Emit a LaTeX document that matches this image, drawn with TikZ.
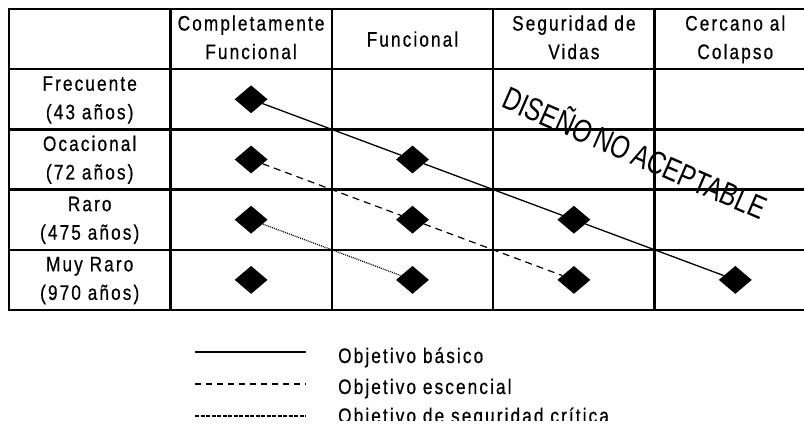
\documentclass[tikz,border=0pt]{standalone}
\usepackage{fontspec}
\setmainfont{Liberation Sans}[FakeStretch=0.82,LetterSpace=10,FakeBold=0.6]
\newfontfamily\plana{Liberation Sans}
\usepackage{tikz}
\usetikzlibrary{matrix,shapes.geometric}

\newcommand{\dos}[2]{\raisebox{-7.5pt}{\begin{tabular}{@{}c@{}}#1\\#2\end{tabular}}}

\tikzset{
	celda/.style={rectangle,draw,line width=2.5pt,minimum width=161.4pt,minimum height=60.2pt,
		inner sep=0pt,outer sep=0pt,anchor=center,font=\fontsize{21pt}{28.5pt}\selectfont},
	rombo/.style={diamond,fill=black,minimum width=33pt,minimum height=28pt,inner sep=0pt},
	basico/.style={line width=1.3pt},
	escencial/.style={line width=1.2pt,dash pattern=on 7pt off 5pt},
	critico/.style={line width=1.2pt,dash pattern=on 1pt off 1pt},
	leyenda/.style={anchor=base west,inner sep=0pt,font=\fontsize{21pt}{26pt}\selectfont}
}

\begin{document}
\begin{tikzpicture}[x=1pt,y=-1pt]
	\useasboundingbox (0,0) rectangle (804,427);
	\clip (0,0) rectangle (804,421);
	\matrix [matrix of nodes,nodes in empty cells,row sep=-2.5pt,column sep=-2.5pt,
	inner sep=0pt,outer sep=0pt,anchor=north west,
	nodes={celda},
	] (T) at (7.75,7.75)
	{
	 & \dos{Completamente}{Funcional} & Funcional & \dos{Seguridad de}{Vidas} & \dos{Cercano al}{Colapso}\\
	\dos{Frecuente}{(43 años)} & & & & \\
	\dos{Ocacional}{(72 años)} & & & & \\
	\dos{Raro}{(475 años)} & & & & \\
	\dos{Muy Raro}{(970 años)} & & & & \\
	};
	\foreach \f in {2,...,5}
		\foreach \c in {2,...,\f}
			\node[rombo] (d\f\c) at (T-\f-\c) {};
	\draw[basico] (d22) -- (d33) -- (d44) -- (d55);
	\draw[escencial] (d32) -- (d43) -- (d54);
	\draw[critico] (d42) -- (d53);
	\node[rotate=-23.6,xscale=0.77,font=\plana\fontsize{32pt}{32pt}\selectfont,inner sep=0pt] (rechazo)
		at (636,151) {DISEÑO\kern6pt NO\kern6pt ACEPTABLE};
	% leyenda
	\coordinate (b1) at (195,352);
	\coordinate (b2) at (306,352);
	\coordinate (e1) at (195,384);
	\coordinate (e2) at (306,384);
	\coordinate (c1) at (195,416);
	\coordinate (c2) at (306,416);
	\draw[line width=1.5pt] (b1) -- (b2);
	\draw[line width=1.3pt,dash pattern=on 6pt off 5pt] (e1) -- (e2);
	\draw[line width=1.2pt,dash pattern=on 4pt off 1.5pt] (c1) -- (c2);
	\node[leyenda] (tb) at (338,363) {Objetivo básico};
	\node[leyenda] (te) at (338,394) {Objetivo escencial};
	\node[leyenda] (tc) at (338,423) {Objetivo de seguridad crítica};
\end{tikzpicture}
\end{document}
